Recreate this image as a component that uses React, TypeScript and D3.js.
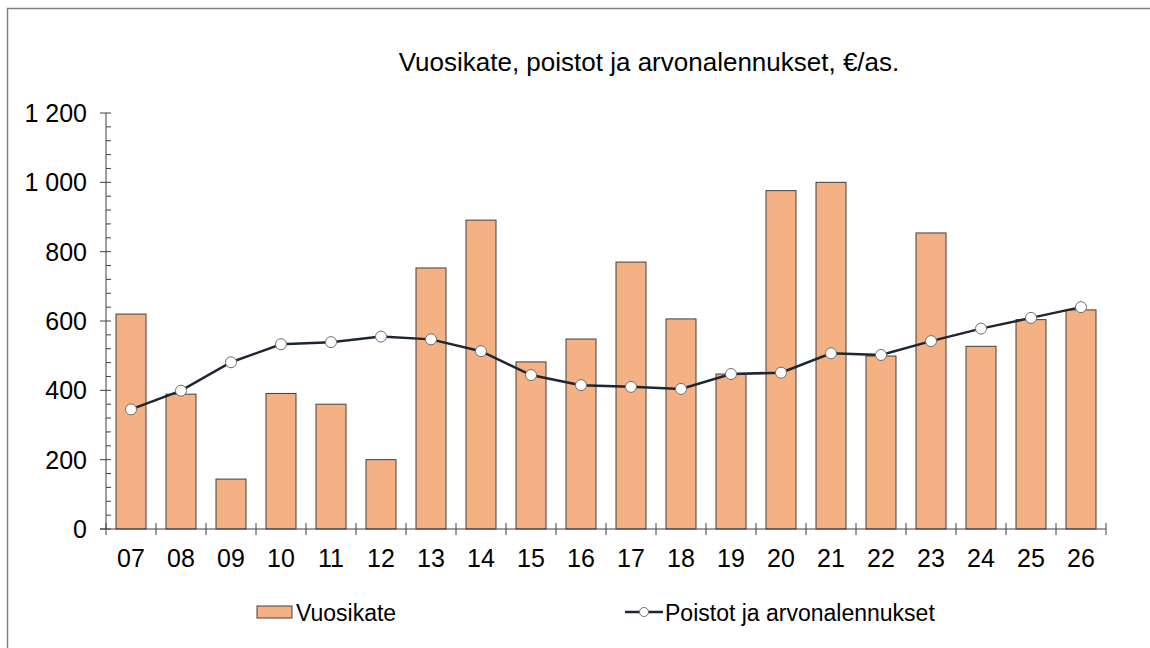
import { useEffect, useRef } from "react";
import * as d3 from "d3";

const years = ["07", "08", "09", "10", "11", "12", "13", "14", "15", "16", "17", "18", "19", "20", "21", "22", "23", "24", "25", "26"];
const vuosikate = [620, 389, 144, 391, 360, 200, 753, 891, 482, 548, 770, 606, 447, 976, 1000, 499, 854, 527, 604, 632];
const poistot = [345, 399, 481, 533, 539, 555, 547, 513, 444, 415, 410, 404, 447, 451, 507, 502, 542, 578, 609, 640];
const yTicks = [0, 200, 400, 600, 800, 1000, 1200];

const W = 1150;
const H = 648;
const FONT = "'Liberation Sans', Arial, sans-serif";

export default function App() {
  const svgRef = useRef<SVGSVGElement>(null);

  useEffect(() => {
    if (!svgRef.current) return;
    const svg = d3.select(svgRef.current);
    svg.selectAll("*").remove();

    const left = 106, right = 1106, top = 113, bottom = 529;

    // outer frame
    svg.append("rect")
      .attr("x", 7.5).attr("y", 8.5)
      .attr("width", W).attr("height", H)
      .style("fill", "#fff").style("stroke", "#808080").style("stroke-width", 1.5);

    svg.append("text")
      .attr("x", 649).attr("y", 71)
      .attr("text-anchor", "middle")
      .style("font-family", FONT).style("font-size", "26px").style("fill", "#000")
      .text("Vuosikate, poistot ja arvonalennukset, €/as.");

    const x = d3.scaleBand().domain(years).range([left, right]).paddingInner(0.4).paddingOuter(0.2);
    const y = d3.scaleLinear().domain([0, 1200]).range([bottom, top]);

    // bars
    svg.append("g").selectAll("rect")
      .data(vuosikate)
      .enter().append("rect")
      .attr("x", (d, i) => x(years[i])!)
      .attr("y", (d) => y(d))
      .attr("width", x.bandwidth())
      .attr("height", (d) => y(0) - y(d))
      .style("fill", "#F4B183").style("stroke", "#404040").style("stroke-width", 1);

    // y axis
    const ax = svg.append("g").style("stroke", "#404040").style("stroke-width", 1);
    ax.append("line").attr("x1", left).attr("x2", left).attr("y1", top).attr("y2", bottom);
    d3.range(0, 1201, 40).forEach((v) => {
      const major = v % 200 === 0;
      ax.append("line")
        .attr("x1", major ? left - 6 : left).attr("x2", left + 5)
        .attr("y1", y(v)).attr("y2", y(v));
    });
    svg.append("g").selectAll("text")
      .data(yTicks).enter().append("text")
      .attr("x", 87).attr("y", (d) => y(d)).attr("dy", "0.36em")
      .attr("text-anchor", "end")
      .style("font-family", FONT).style("font-size", "25px").style("fill", "#000")
      .text((d) => d3.format(",")(d).replace(",", " "));

    // x axis
    ax.append("line").attr("x1", left - 6).attr("x2", right).attr("y1", bottom).attr("y2", bottom);
    d3.range(0, years.length + 1).forEach((i) => {
      const xx = left + (i * (right - left)) / years.length;
      ax.append("line").attr("x1", xx).attr("x2", xx).attr("y1", bottom - 6).attr("y2", bottom + 6);
    });
    svg.append("g").selectAll("text")
      .data(years).enter().append("text")
      .attr("x", (d) => x(d)! + x.bandwidth() / 2).attr("y", 567)
      .attr("text-anchor", "middle")
      .style("font-family", FONT).style("font-size", "25px").style("fill", "#000")
      .text((d) => d);

    // line
    const cx = (i: number) => x(years[i])! + x.bandwidth() / 2;
    const line = d3.line<number>().x((d, i) => cx(i)).y((d) => y(d));
    svg.append("path")
      .datum(poistot)
      .attr("d", line)
      .style("fill", "none").style("stroke", "#1E2632").style("stroke-width", 2.5);
    svg.append("g").selectAll("circle")
      .data(poistot).enter().append("circle")
      .attr("cx", (d, i) => cx(i)).attr("cy", (d) => y(d)).attr("r", 5.5)
      .style("fill", "#fff").style("stroke", "#707070").style("stroke-width", 1);

    // legend
    svg.append("rect")
      .attr("x", 257).attr("y", 606).attr("width", 35).attr("height", 12)
      .style("fill", "#F4B183").style("stroke", "#404040").style("stroke-width", 1);
    svg.append("text")
      .attr("x", 296).attr("y", 621)
      .style("font-family", FONT).style("font-size", "23px").style("fill", "#000")
      .text("Vuosikate");
    svg.append("line")
      .attr("x1", 625).attr("x2", 663).attr("y1", 612).attr("y2", 612)
      .style("stroke", "#1E2632").style("stroke-width", 2.5);
    svg.append("circle")
      .attr("cx", 644).attr("cy", 612).attr("r", 4.5)
      .style("fill", "#fff").style("stroke", "#707070").style("stroke-width", 1);
    svg.append("text")
      .attr("x", 665).attr("y", 621)
      .style("font-family", FONT).style("font-size", "23px").style("fill", "#000")
      .text("Poistot ja arvonalennukset");
  }, []);

  return (
    <svg ref={svgRef} width={W} height={H} style={{ position: "absolute", left: 0, top: 0 }} />
  );
}
